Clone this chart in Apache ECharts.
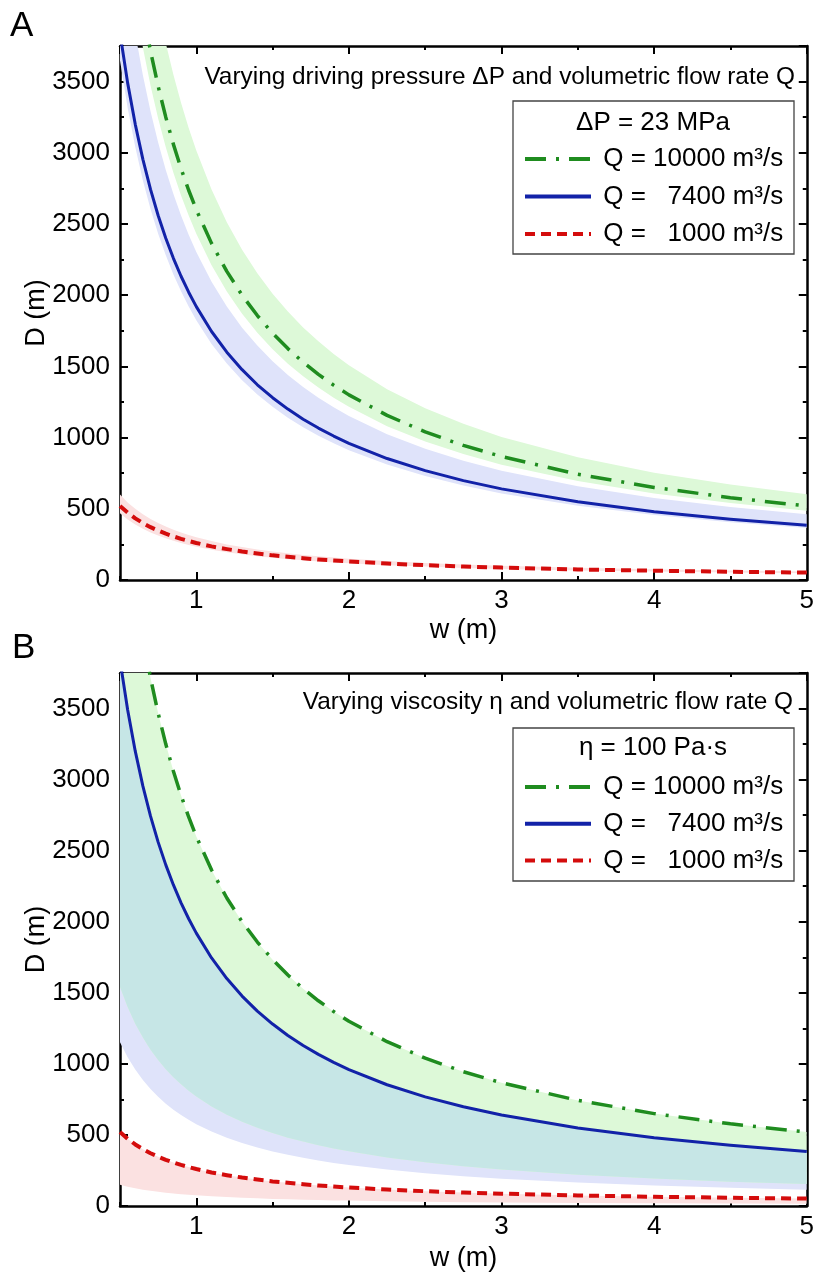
<!DOCTYPE html>
<html>
<head>
<meta charset="utf-8">
<script src="https://cdn.jsdelivr.net/npm/echarts@6/dist/echarts.min.js"></script>
<style>
html,body{margin:0;padding:0;background:#fff;}
#chart{width:817px;height:1274px;}
</style>
</head>
<body>
<div id="chart"></div>
<script>
// ---- data ----
const W = [0.5, 0.55, 0.6, 0.65, 0.7, 0.75, 0.8, 0.85, 0.9, 0.95, 1.0, 1.1, 1.2, 1.3, 1.4, 1.5, 1.6, 1.7, 1.8, 1.9, 2.0, 2.25, 2.5, 2.75, 3.0, 3.5, 4.0, 4.5, 5.0];

// central curves D(w) for each Q (same in both panels)
const D_Q10000 = [5200, 4727, 4333, 4000, 3714, 3467, 3250, 3059, 2889, 2737, 2600, 2364, 2167, 2000, 1857, 1733, 1625, 1529, 1444, 1368, 1300, 1156, 1040, 945, 867, 743, 650, 578, 520];
const D_Q7400  = [3840, 3491, 3200, 2954, 2743, 2560, 2400, 2259, 2133, 2021, 1920, 1745, 1600, 1477, 1371, 1280, 1200, 1129, 1067, 1011, 960, 853, 768, 698, 640, 549, 480, 427, 384];
const D_Q1000  = [520, 473, 433, 400, 371, 347, 325, 306, 289, 274, 260, 236, 217, 200, 186, 173, 163, 153, 144, 137, 130, 116, 104, 95, 87, 74, 65, 58, 52];

// Panel A: bands for varying driving pressure
const A_HI_Q10000 = [6032, 5484, 5027, 4640, 4309, 4021, 3770, 3548, 3351, 3175, 3016, 2742, 2513, 2320, 2154, 2011, 1885, 1774, 1676, 1587, 1508, 1340, 1206, 1097, 1005, 862, 754, 670, 603];
const A_LO_Q10000 = [4862, 4420, 4052, 3740, 3473, 3241, 3039, 2860, 2701, 2559, 2431, 2210, 2026, 1870, 1736, 1621, 1519, 1430, 1351, 1279, 1216, 1080, 972, 884, 810, 695, 608, 540, 486];
const A_HI_Q7400  = [4608, 4189, 3840, 3545, 3291, 3072, 2880, 2711, 2560, 2425, 2304, 2095, 1920, 1772, 1646, 1536, 1440, 1355, 1280, 1213, 1152, 1024, 922, 838, 768, 658, 576, 512, 461];
const A_LO_Q7400  = [3648, 3316, 3040, 2806, 2606, 2432, 2280, 2146, 2027, 1920, 1824, 1658, 1520, 1403, 1303, 1216, 1140, 1073, 1013, 960, 912, 811, 730, 663, 608, 521, 456, 405, 365];
const A_HI_Q1000  = [600, 545, 500, 462, 429, 400, 375, 353, 333, 316, 300, 273, 250, 231, 214, 200, 188, 176, 167, 158, 150, 133, 120, 109, 100, 86, 75, 67, 60];
const A_LO_Q1000  = [468, 425, 390, 360, 334, 312, 293, 275, 260, 246, 234, 213, 195, 180, 167, 156, 146, 138, 130, 123, 117, 104, 94, 85, 78, 67, 59, 52, 47];

// Panel B: bands for varying viscosity (upper edge = central curve)
const B_LO_Q10000 = [1540, 1400, 1283, 1185, 1100, 1027, 963, 906, 856, 811, 770, 700, 642, 592, 550, 513, 481, 453, 428, 405, 385, 342, 308, 280, 257, 220, 193, 171, 154];
const B_LO_Q7400  = [1152, 1047, 960, 886, 823, 768, 720, 678, 640, 606, 576, 524, 480, 443, 411, 384, 360, 339, 320, 303, 288, 256, 230, 209, 192, 165, 144, 128, 115];
const B_LO_Q1000  = [150, 136, 125, 115, 107, 100, 94, 88, 83, 79, 75, 68, 63, 58, 54, 50, 47, 44, 42, 39, 38, 33, 30, 27, 25, 21, 19, 17, 15];

const Q_LABELS = ['10000', '7400', '1000'];
const X_NAME = 'w (m)';
const Y_NAME = 'D (m)';
const SUB_A = 'Varying driving pressure \u0394P and volumetric flow rate Q';
const SUB_B = 'Varying viscosity \u03B7 and volumetric flow rate Q';
const LEG_TITLE_A = '\u0394P = 23 MPa';
const LEG_TITLE_B = '\u03B7 = 100 Pa\u00B7s';

// ---- styling ----
const FONT = '"Liberation Sans", Arial, Helvetica, sans-serif';
const C_GREEN = '#1f8c1f', C_BLUE = '#1222a8', C_RED = '#d40c0c';
const F_GREEN = '#ddf9d8', F_BLUE = '#dfe3fa', F_RED = '#fbe1e1', F_TEAL = '#c6e6e6';

const pairs = arr => W.map((x, i) => [x, arr[i]]);

function band(gi, lo, hi, color) {
  return {
    type: 'custom', xAxisIndex: gi * 4, yAxisIndex: gi * 4, z: 1, silent: true,
    data: [[W[0], lo[0]]],
    renderItem: function (params, api) {
      const pts = [];
      for (let i = 0; i < W.length; i++) pts.push(api.coord([W[i], hi[i]]));
      for (let i = W.length - 1; i >= 0; i--) pts.push(api.coord([W[i], lo[i]]));
      const cs = params.coordSys;
      return {
        type: 'polygon', shape: { points: pts }, style: { fill: color },
        clipPath: { type: 'rect', shape: { x: cs.x, y: cs.y, width: cs.width, height: cs.height } }
      };
    }
  };
}

function lines(gi, prefix) {
  const mk = (name, arr, color, type, width) => ({
    name: name, type: 'line', xAxisIndex: gi * 4, yAxisIndex: gi * 4, data: pairs(arr), symbol: 'none',
    showSymbol: false, smooth: false, z: 5, silent: true,
    lineStyle: { color: color, width: width, type: type, cap: 'butt', join: 'round' }, itemStyle: { color: color }
  });
  return [
    mk(prefix + '0', D_Q10000, C_GREEN, [21, 10, 3, 10], 3.5),
    mk(prefix + '1', D_Q7400, C_BLUE, 'solid', 3),
    mk(prefix + '2', D_Q1000, C_RED, [10, 6], 4)
  ];
}

const plainNum = v => String(v);

function axesX(gi, nameGap) {
  const base = { gridIndex: gi, type: 'value', min: 0.5, max: 5, splitLine: { show: false } };
  return [
    Object.assign({}, base, { position: 'bottom', splitNumber: 5,
      axisLine: { show: true, onZero: false, lineStyle: { color: '#000', width: 2.5 } },
      axisTick: { inside: true, length: 8, lineStyle: { color: '#000', width: 2 } },
      axisLabel: { showMinLabel: false, color: '#000', fontSize: 26, fontFamily: FONT, margin: 8, formatter: plainNum },
      name: X_NAME, nameLocation: 'middle', nameGap: nameGap, nameMoveOverlap: false,
      nameTextStyle: { color: '#000', fontSize: 27, fontFamily: FONT } }),
    Object.assign({}, base, { position: 'bottom', interval: 0.5,
      axisLine: { show: false, onZero: false }, axisTick: { inside: true, length: 4, lineStyle: { color: '#000', width: 2 } },
      axisLabel: { show: false } }),
    Object.assign({}, base, { position: 'top', splitNumber: 5,
      axisLine: { show: true, onZero: false, lineStyle: { color: '#000', width: 2.5 } },
      axisTick: { inside: true, length: 8, lineStyle: { color: '#000', width: 2 } },
      axisLabel: { show: false } }),
    Object.assign({}, base, { position: 'top', interval: 0.5,
      axisLine: { show: false, onZero: false }, axisTick: { inside: true, length: 4, lineStyle: { color: '#000', width: 2 } },
      axisLabel: { show: false } })
  ];
}

function axesY(gi) {
  const base = { gridIndex: gi, type: 'value', min: 0, max: 3750, splitLine: { show: false } };
  return [
    Object.assign({}, base, { position: 'left', interval: 500,
      axisLine: { show: true, onZero: false, lineStyle: { color: '#000', width: 2.5 } },
      axisTick: { inside: true, length: 8, lineStyle: { color: '#000', width: 2 } },
      axisLabel: { showMaxLabel: false, color: '#000', fontSize: 26, fontFamily: FONT, margin: 10, formatter: plainNum },
      name: Y_NAME, nameLocation: 'middle', nameGap: 70, nameRotate: 90, nameMoveOverlap: false,
      nameTextStyle: { color: '#000', fontSize: 27, fontFamily: FONT } }),
    Object.assign({}, base, { position: 'left', interval: 250,
      axisLine: { show: false, onZero: false }, axisTick: { inside: true, length: 4, lineStyle: { color: '#000', width: 2 } },
      axisLabel: { show: false } }),
    Object.assign({}, base, { position: 'right', interval: 500,
      axisLine: { show: true, onZero: false, lineStyle: { color: '#000', width: 2.5 } },
      axisTick: { inside: true, length: 8, lineStyle: { color: '#000', width: 2 } },
      axisLabel: { show: false } }),
    Object.assign({}, base, { position: 'right', interval: 250,
      axisLine: { show: false, onZero: false }, axisTick: { inside: true, length: 4, lineStyle: { color: '#000', width: 2 } },
      axisLabel: { show: false } })
  ];
}

const legendRich = {
  t: { fontSize: 26, fontFamily: FONT, color: '#000', lineHeight: 30 },
  p: { width: 14.5, fontSize: 26, fontFamily: FONT, color: '#000', lineHeight: 30 }
};
function legend(prefix, top, gap) {
  return {
    data: [prefix + '0', prefix + '1', prefix + '2'], orient: 'vertical', left: 523, top: top,
    itemWidth: 66, itemHeight: 14, itemGap: gap, selectedMode: false, padding: 0,
    itemStyle: { opacity: 0 },
    lineStyle: { width: 4 },
    formatter: function (name) {
      const num = Q_LABELS[+name.slice(-1)];
      const pad = num.length < 5 ? '{p| }' : '';
      return '{t| Q = }' + pad + '{t|' + num + ' m\u00B3/s}';
    },
    textStyle: { fontSize: 26, fontFamily: FONT, color: '#000', lineHeight: 30, rich: legendRich }
  };
}

// overlap of the two viscosity bands (blue and green) in panel B
const B_OV_LO = W.map((_, i) => Math.max(B_LO_Q10000[i], B_LO_Q7400[i]));
const B_OV_HI = W.map((_, i) => Math.min(D_Q10000[i], D_Q7400[i]));

const series = [].concat(
  band(0, A_LO_Q10000, A_HI_Q10000, F_GREEN),
  band(0, A_LO_Q7400, A_HI_Q7400, F_BLUE),
  band(0, A_LO_Q1000, A_HI_Q1000, F_RED),
  lines(0, 'a'),
  band(1, B_LO_Q7400, D_Q7400, F_BLUE),
  band(1, B_LO_Q10000, D_Q10000, F_GREEN),
  band(1, B_OV_LO, B_OV_HI, F_TEAL),
  band(1, B_LO_Q1000, D_Q1000, F_RED),
  lines(1, 'b')
);

function txt(x, y, text, size, align) {
  return { type: 'text', x: x, y: y, z: 6,
    style: { text: text, font: size + 'px ' + FONT, fill: '#000',
      textAlign: align, align: align, textVerticalAlign: 'middle', verticalAlign: 'middle' } };
}
function box(x, y, w, h) {
  return { type: 'rect', z: 3, shape: { x: x, y: y, width: w, height: h },
    style: { fill: '#fff', stroke: '#444', lineWidth: 1.3 } };
}

const option = {
  animation: false,
  backgroundColor: '#fff',
  grid: [
    { left: 120, top: 46, right: 6, height: 534 },
    { left: 120, top: 673, right: 6, height: 533 }
  ],
  xAxis: [].concat(axesX(0, 37), axesX(1, 39)),
  yAxis: [].concat(axesY(0), axesY(1)),
  legend: [legend('a', 144, 7.5), legend('b', 772, 6.7)],
  graphic: [
    txt(10, 26, 'A', 35, 'left'),
    txt(12, 648, 'B', 35, 'left'),
    txt(795, 77, SUB_A, 24.4, 'right'),
    txt(793, 702, SUB_B, 24.4, 'right'),
    box(513, 101, 281, 153),
    box(513, 728, 281, 153),
    txt(653, 123, LEG_TITLE_A, 26, 'center'),
    txt(653, 748, LEG_TITLE_B, 26, 'center')
  ],
  series: series
};

const chart = echarts.init(document.getElementById('chart'), null, { renderer: 'canvas' });
chart.setOption(option);
</script>
</body>
</html>
